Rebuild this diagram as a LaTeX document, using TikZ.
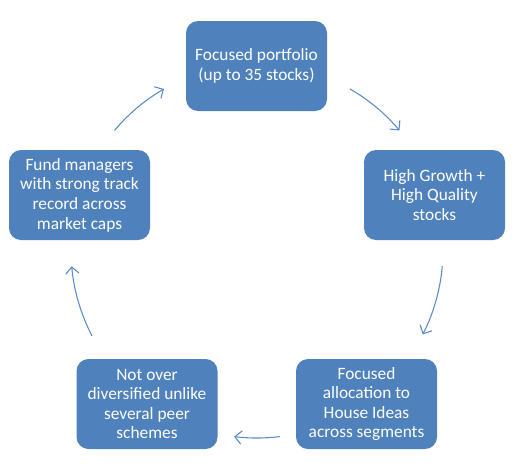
\documentclass[tikz,border=0pt]{standalone}
\usepackage{fontspec}
\setmainfont{Carlito}
\usetikzlibrary{arrows.meta,calc}
\definecolor{boxblue}{HTML}{4F81BD}
\definecolor{arrblue}{HTML}{5B8BC6}
\tikzset{
  box/.style={fill=boxblue, draw=none, rounded corners=9pt, minimum width=105.75pt, minimum height=67.5pt,
    text=white, align=center, font=\fontsize{13pt}{14.7pt}\selectfont, inner sep=0pt},
  flow/.style={draw=arrblue, line width=0.8pt, -{Straight Barb[length=5pt,width=10pt,line width=0.8pt]}}
}
\begin{document}
\begin{tikzpicture}[x=0.75pt,y=-0.75pt]
\useasboundingbox (0,0) rectangle (520,475);
\node[box] (top) at (256.5,66) {Focused portfolio\\(up to 35 stocks)};
\node[box] (right) at (434.5,195) {High Growth +\\High Quality\\stocks};
\node[box] (left) at (79.5,195) {Fund managers\\with strong track\\record across\\market caps};
\node[box] (bl) at (147,404) {Not over\\diversified unlike\\several peer\\schemes};
\node[box] (br) at (366.5,404) {Focused\\allocation to\\House Ideas\\across segments};
\coordinate (c) at (257,250);
\def\R{139.5pt}
\coordinate (s1) at ($(c)+(60:\R)$);
\coordinate (s2) at ($(c)+(-5:\R)$);
\coordinate (s3) at ($(c)+(-83:141pt)$);
\coordinate (s4) at ($(c)+(207.5:\R)$);
\coordinate (s5) at ($(c)+(140:\R)$);
\draw[flow] (s1) arc[start angle=60, end angle=40, radius=\R];
\draw[flow] (s2) arc[start angle=-5, end angle=-27, radius=\R];
\draw[flow] (s3) arc[start angle=-83, end angle=-97, radius=141pt];
\draw[flow] (s4) arc[start angle=207.5, end angle=185, radius=\R];
\draw[flow] (s5) arc[start angle=140, end angle=120, radius=\R];
\end{tikzpicture}
\end{document}
